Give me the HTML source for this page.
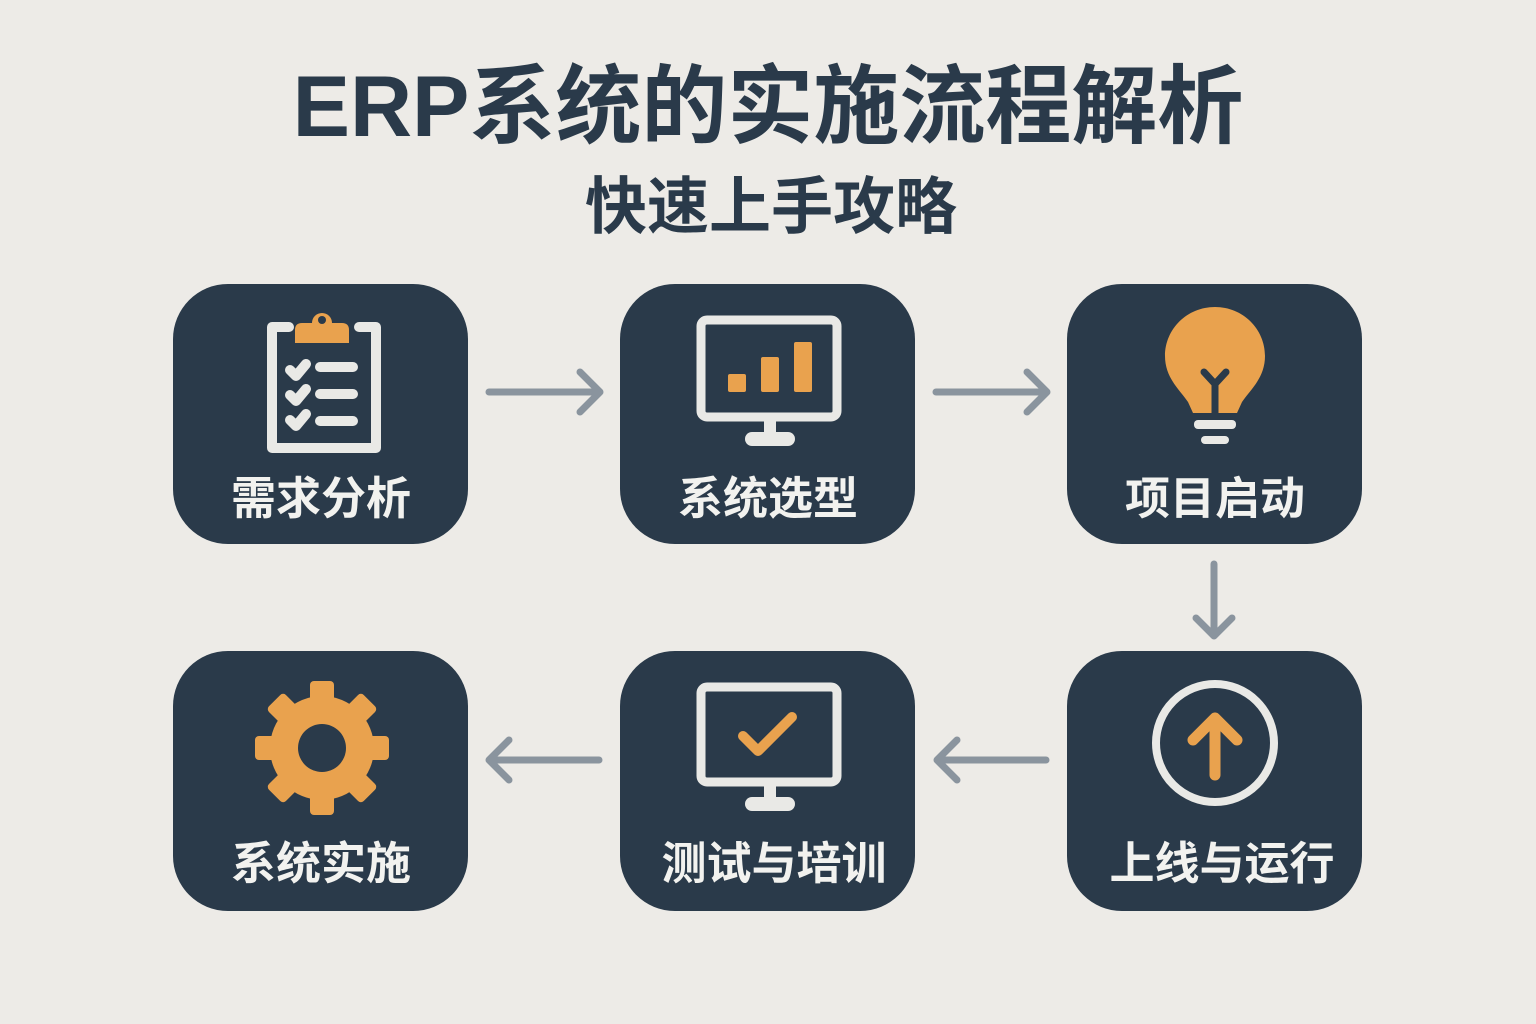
<!DOCTYPE html>
<html><head><meta charset="utf-8">
<style>
html,body{margin:0;padding:0;background:#edebe7;}
body{width:1536px;height:1024px;overflow:hidden;}
svg{display:block}
text{font-family:"Liberation Sans","Noto Sans CJK SC",sans-serif;font-weight:bold;}
</style></head><body>
<svg width="1536" height="1024" viewBox="0 0 1536 1024">
<rect width="1536" height="1024" fill="#edebe7"/>
<text x="768" y="136" text-anchor="middle" font-size="86" fill="#2a3a4a">ERP系统的实施流程解析</text>
<text x="771" y="228" text-anchor="middle" font-size="62" fill="#2a3a4a">快速上手攻略</text>

<g fill="#2a3a4a">
<rect x="173" y="284" width="295" height="260" rx="55"/>
<rect x="620" y="284" width="295" height="260" rx="55"/>
<rect x="1067" y="284" width="295" height="260" rx="55"/>
<rect x="173" y="651" width="295" height="260" rx="55"/>
<rect x="620" y="651" width="295" height="260" rx="55"/>
<rect x="1067" y="651" width="295" height="260" rx="55"/>
</g>

<g stroke="#8a949e" stroke-width="7" stroke-linecap="round" stroke-linejoin="round" fill="none">
<path d="M489 392H600M580 372L600 392L580 412"/>
<path d="M936 392H1047M1027 372L1047 392L1027 412"/>
<path d="M1214 564V636M1196 618L1214 636L1232 618"/>
<path d="M1046 760H937M957 740L937 760L957 780"/>
<path d="M599 760H489M509 740L489 760L509 780"/>
</g>

<g fill="none" stroke="#e9e9e6" stroke-width="10" stroke-linejoin="round" stroke-linecap="round">
<path d="M289 327H272V448H376V327H359"/>
<path d="M290 370L296 376L306 364M290 395L296 401L306 389M290 420L296 426L306 414"/>
<path d="M320 367H353M320 394H353M320 421H353"/>
</g>
<path d="M295 343V330Q295 323 302 323H312A10 10 0 0 1 332 323H342Q349 323 349 330V343Z" fill="#e9a24e"/>
<circle cx="322" cy="320" r="4" fill="#2a3a4a"/>

<rect x="701" y="320" width="136" height="97" rx="6" fill="none" stroke="#e9e9e6" stroke-width="9"/>
<rect x="764" y="420" width="12" height="14" fill="#e9e9e6"/>
<rect x="745" y="432" width="50" height="14" rx="7" fill="#e9e9e6"/>
<rect x="728" y="374" width="18" height="18" rx="2" fill="#e9a24e"/>
<rect x="761" y="357" width="18" height="35" rx="2" fill="#e9a24e"/>
<rect x="794" y="342" width="18" height="50" rx="2" fill="#e9a24e"/>

<path d="M1215 307C1187 307 1165 329 1165 356C1165 378 1180 390 1188 402L1193 413H1237L1242 402C1250 390 1265 378 1265 356C1265 329 1243 307 1215 307Z" fill="#e9a24e"/>
<path d="M1204 372L1215 384L1226 372M1215 384V413" stroke="#2a3a4a" stroke-width="7" fill="none" stroke-linecap="round"/>
<rect x="1194" y="420" width="42" height="9" rx="4" fill="#e9e9e6"/>
<rect x="1201" y="436" width="28" height="8" rx="4" fill="#e9e9e6"/>

<circle cx="1215" cy="743" r="59" fill="none" stroke="#e9e9e6" stroke-width="8"/>
<path d="M1215 775V718M1193 740L1215 718L1237 740" stroke="#e9a24e" stroke-width="11" fill="none" stroke-linecap="round" stroke-linejoin="round"/>

<rect x="701" y="687" width="136" height="95" rx="6" fill="none" stroke="#e9e9e6" stroke-width="9"/>
<rect x="764" y="785" width="12" height="14" fill="#e9e9e6"/>
<rect x="745" y="797" width="50" height="14" rx="7" fill="#e9e9e6"/>
<path d="M743 736L758 751L792 717" stroke="#e9a24e" stroke-width="10" fill="none" stroke-linecap="round" stroke-linejoin="round"/>

<g transform="translate(322 748)" fill="#e9a24e">
<circle r="52"/>
<g id="t"><rect x="-12" y="-67" width="24" height="26" rx="4"/></g>
<use href="#t" transform="rotate(45)"/><use href="#t" transform="rotate(90)"/><use href="#t" transform="rotate(135)"/>
<use href="#t" transform="rotate(180)"/><use href="#t" transform="rotate(225)"/><use href="#t" transform="rotate(270)"/><use href="#t" transform="rotate(315)"/>
<circle r="24" fill="#2a3a4a"/>
</g>

<g fill="#f2f2ef" font-size="45" text-anchor="middle">
<text x="321" y="514">需求分析</text>
<text x="768" y="514">系统选型</text>
<text x="1215" y="514">项目启动</text>
<text x="321" y="879">系统实施</text>
<text x="774" y="879">测试与培训</text>
<text x="1222" y="879">上线与运行</text>
</g>
</svg>
</body></html>
